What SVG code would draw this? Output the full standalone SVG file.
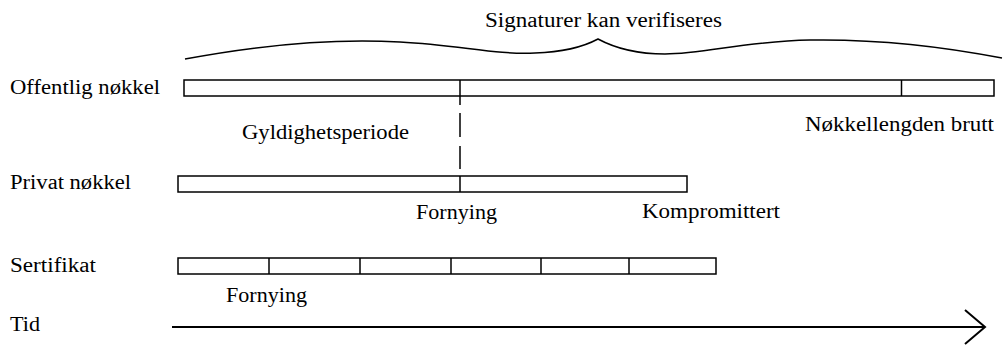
<svg xmlns="http://www.w3.org/2000/svg" width="1003" height="347" viewBox="0 0 1003 347" font-family="Liberation Serif, Times New Roman, serif">
  <style>
    text { font-size: 20px; fill: #000; }
    .bar { fill: #fff; stroke: #000; stroke-width: 1.5; }
    .div { stroke: #000; stroke-width: 1.5; fill: none; }
    .line { stroke: #000; stroke-width: 2; fill: none; }
  </style>

  <!-- brace over the public-key period -->
  <g id="brace">
    <path class="div" d="M185,59 C260,45 330,38 400,42 C460,45 495,55 535,53 C565,52 585,46 598,39 C611,46 632,54 665,54 C705,54 745,41 810,40 C870,39 935,45 1002,58"/>
    <text x="485" y="27" textLength="237" lengthAdjust="spacingAndGlyphs">Signaturer kan verifiseres</text>
  </g>

  <!-- public key row -->
  <g id="offentlig">
    <text x="10" y="94" textLength="150" lengthAdjust="spacingAndGlyphs">Offentlig nøkkel</text>
    <rect class="bar" x="184" y="80" width="810" height="16"/>
    <line class="div" x1="901.5" y1="80" x2="901.5" y2="96"/>
    <text x="805" y="131" textLength="189" lengthAdjust="spacingAndGlyphs">Nøkkellengden brutt</text>
  </g>

  <text id="gyldighet" x="242" y="139" textLength="167" lengthAdjust="spacingAndGlyphs">Gyldighetsperiode</text>

  <!-- private key row -->
  <g id="privat">
    <text x="10" y="189" textLength="121" lengthAdjust="spacingAndGlyphs">Privat nøkkel</text>
    <rect class="bar" x="178" y="176" width="509" height="16"/>
    <text x="416" y="219" textLength="81" lengthAdjust="spacingAndGlyphs">Fornying</text>
    <text x="642" y="218" textLength="138" lengthAdjust="spacingAndGlyphs">Kompromittert</text>
  </g>

  <!-- certificate row -->
  <g id="sertifikat">
    <text x="10" y="272" textLength="86" lengthAdjust="spacingAndGlyphs">Sertifikat</text>
    <rect class="bar" x="178" y="258" width="538" height="16"/>
    <line class="div" x1="269" y1="258" x2="269" y2="274"/>
    <line class="div" x1="360" y1="258" x2="360" y2="274"/>
    <line class="div" x1="451" y1="258" x2="451" y2="274"/>
    <line class="div" x1="541" y1="258" x2="541" y2="274"/>
    <line class="div" x1="629" y1="258" x2="629" y2="274"/>
    <text x="226" y="302" textLength="81" lengthAdjust="spacingAndGlyphs">Fornying</text>
  </g>

  <!-- time axis -->
  <g id="tid">
    <text x="10" y="331" textLength="30" lengthAdjust="spacingAndGlyphs">Tid</text>
  </g>

  <g id="connectors">
    <!-- renewal instant, through both key bars -->
    <line class="div" x1="460" y1="80" x2="460" y2="105"/>
    <line class="div" x1="460" y1="113" x2="460" y2="137"/>
    <line class="div" x1="460" y1="146" x2="460" y2="169"/>
    <line class="div" x1="460" y1="176" x2="460" y2="192"/>
    <!-- time arrow -->
    <line class="line" x1="172" y1="327" x2="985" y2="327"/>
    <polyline class="line" points="965,310 985,327 965,344"/>
  </g>
</svg>
